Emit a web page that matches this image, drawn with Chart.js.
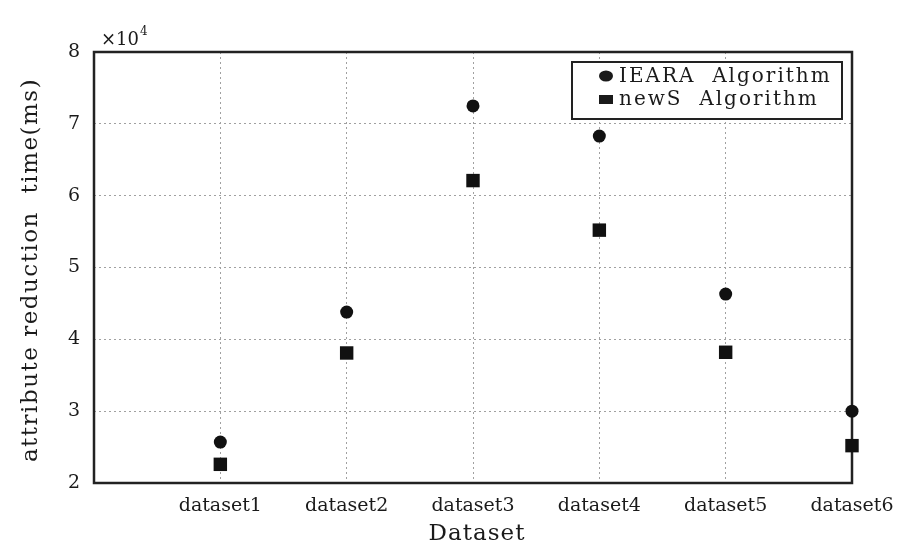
<!DOCTYPE html>
<html><head><meta charset="utf-8">
<script src="https://cdn.jsdelivr.net/npm/chart.js@4"></script>
<style>html,body{margin:0;padding:0;background:#fff}#wrap{width:899px;height:549px}</style>
</head><body><div id="wrap"><canvas id="c" width="899" height="549"></canvas></div>
<script>
const categories = ['dataset1', 'dataset2', 'dataset3', 'dataset4', 'dataset5', 'dataset6'];
const iearaTimes = [25700, 43800, 72500, 68300, 46300, 30000];
const newsTimes = [22600, 38100, 62100, 55200, 38200, 25200];
const seriesNames = ['IEARA  Algorithm', 'newS  Algorithm'];
const yTickValues = [20000, 30000, 40000, 50000, 60000, 70000, 80000];
const xTitle = 'Dataset';
const yTitle = 'attribute reduction  time(ms)';

const SERIF = '"DejaVu Serif", "Liberation Serif", serif';
const INK = '#1a1a1a';

const toPoints = arr => arr.map((v, i) => ({ x: i + 1, y: v }));

const decor = {
  id: 'decor',
  beforeDatasetsDraw(chart) {
    const { ctx, chartArea: a } = chart;
    ctx.save();
    ctx.strokeStyle = '#222';
    ctx.lineWidth = 2.5;
    ctx.strokeRect(a.left, a.top, a.right - a.left, a.bottom - a.top);
    ctx.restore();
  },
  afterDraw(chart) {
    const { ctx, chartArea: a } = chart;
    ctx.save();
    // exponent
    ctx.fillStyle = INK;
    ctx.textBaseline = 'alphabetic';
    ctx.textAlign = 'left';
    ctx.font = '18px ' + SERIF;
    ctx.fillText('×10', 101, 45);
    const w = ctx.measureText('×10').width;
    ctx.font = '12px ' + SERIF;
    ctx.fillText('4', 101 + w + 1, 35);
    // x title
    ctx.font = '23px ' + SERIF;
    ctx.letterSpacing = '1px';
    ctx.textAlign = 'center';
    ctx.textBaseline = 'middle';
    ctx.fillText(xTitle, (a.left + a.right) / 2 + 4, 534);
    // y title
    ctx.save();
    ctx.translate(31, 270);
    ctx.rotate(-Math.PI / 2);
    ctx.font = '23px ' + SERIF;
    ctx.letterSpacing = '1.5px';
    ctx.fillText(yTitle, 0, 0);
    ctx.restore();
    // legend
    const lx = 572, ly = 62, lw = 270, lh = 57;
    ctx.fillStyle = '#fff';
    ctx.fillRect(lx, ly, lw, lh);
    ctx.strokeStyle = '#222';
    ctx.lineWidth = 2;
    ctx.strokeRect(lx, ly, lw, lh);
    ctx.fillStyle = INK;
    ctx.beginPath();
    ctx.ellipse(606, 76, 7, 5.5, 0, 0, Math.PI * 2);
    ctx.fill();
    ctx.fillRect(599, 95, 14, 9);
    ctx.font = '20px ' + SERIF;
    ctx.letterSpacing = '2px';
    ctx.textAlign = 'left';
    ctx.textBaseline = 'middle';
    ctx.fillText(seriesNames[0], 619, 77);
    ctx.fillText(seriesNames[1], 619, 100);
    ctx.restore();
  }
};

new Chart(document.getElementById('c'), {
  type: 'scatter',
  data: {
    datasets: [
      { label: seriesNames[0], data: toPoints(iearaTimes), pointStyle: 'circle', pointRadius: 6.5,
        backgroundColor: '#111', borderColor: '#111', borderWidth: 0, clip: false },
      { label: seriesNames[1], data: toPoints(newsTimes), pointStyle: 'rect', pointRadius: 9.5,
        backgroundColor: '#111', borderColor: '#111', borderWidth: 0, clip: false }
    ]
  },
  options: {
    responsive: false,
    devicePixelRatio: 1,
    animation: false,
    layout: { padding: { left: 0, right: 47, top: 52, bottom: 0 } },
    plugins: { legend: { display: false }, tooltip: { enabled: false } },
    scales: {
      x: {
        type: 'linear', min: 0, max: 6,
        afterFit: s => { s.height = 66; s.paddingLeft = 0; s.paddingRight = 0; },
        afterBuildTicks: s => { s.ticks = [0, 1, 2, 3, 4, 5, 6].map(v => ({ value: v })); },
        ticks: { padding: 12, color: INK, font: { family: SERIF, size: 19 },
          autoSkip: false, maxRotation: 0,
          callback: v => (v >= 1 ? categories[v - 1] : '') },
        grid: { color: ctx => (ctx.tick && ctx.tick.value > 0 && ctx.tick.value < 6 ? '#a0a0a0' : 'rgba(0,0,0,0)'),
          lineWidth: 1, drawTicks: false },
        border: { display: false, dash: [2, 3] }
      },
      y: {
        min: 20000, max: 80000,
        afterFit: s => { s.width = 94; s.paddingTop = 0; s.paddingBottom = 0; },
        afterBuildTicks: s => { s.ticks = yTickValues.map(v => ({ value: v })); },
        ticks: { padding: 14, color: INK, font: { family: SERIF, size: 19 },
          callback: v => String(v / 10000) },
        grid: { color: ctx => (ctx.tick && ctx.tick.value > 20000 && ctx.tick.value < 80000 ? '#a0a0a0' : 'rgba(0,0,0,0)'),
          lineWidth: 1, drawTicks: false },
        border: { display: false, dash: [2, 3] }
      }
    }
  },
  plugins: [decor]
});
</script>
</body></html>
